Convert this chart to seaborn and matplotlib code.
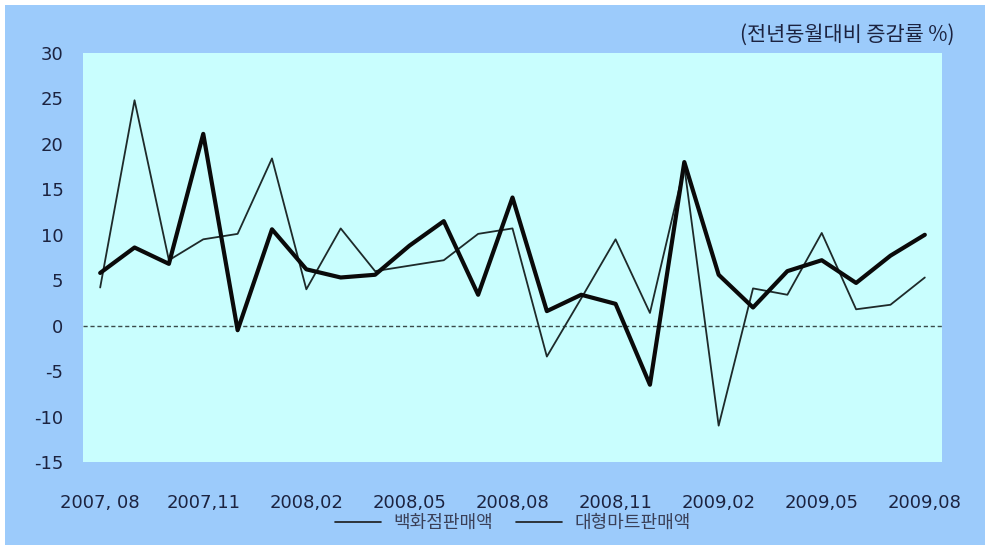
import matplotlib
matplotlib.use("Agg")
import matplotlib.pyplot as plt
from matplotlib.patches import Rectangle
import numpy as np
import pandas as pd
import seaborn as sns

# Monthly year-on-year growth rates (%), 2007.08 - 2009.08
months = ["2007.08", "2007.09", "2007.10", "2007.11", "2007.12", "2008.01",
          "2008.02", "2008.03", "2008.04", "2008.05", "2008.06", "2008.07",
          "2008.08", "2008.09", "2008.10", "2008.11", "2008.12", "2009.01",
          "2009.02", "2009.03", "2009.04", "2009.05", "2009.06", "2009.07",
          "2009.08"]
dept_store = [4.2, 24.8, 7.2, 9.5, 10.1, 18.4, 4.0, 10.7, 6.0, 6.6, 7.2, 10.1,
              10.7, -3.4, 3.0, 9.5, 1.4, 17.5, -11.0, 4.1, 3.4, 10.2, 1.8, 2.3,
              5.3]
big_mart = [5.8, 8.6, 6.8, 21.1, -0.5, 10.6, 6.2, 5.3, 5.6, 8.8, 11.5, 3.4,
            14.1, 1.6, 3.4, 2.4, -6.5, 18.0, 5.6, 2.0, 6.0, 7.2, 4.7, 7.7, 10.0]
tick_labels = ["2007, 08", "2007,11", "2008,02", "2008,05", "2008,08",
               "2008,11", "2009,02", "2009,05", "2009,08"]
series_names = ["백화점판매액", "대형마트판매액"]
unit_note = "(전년동월대비 증감률 %)"
y_ticks = [-15, -10, -5, 0, 5, 10, 15, 20, 25, 30]

sns.set_style("white")
plt.rcParams["font.family"] = ["DejaVu Sans", "Noto Sans CJK KR"]
plt.rcParams["axes.unicode_minus"] = False

text_color = "#1c2340"
outer_bg = "#9CCBFB"
plot_bg = "#C9FEFE"

df = pd.DataFrame({"idx": np.arange(len(months)), "month": months,
                   "dept": dept_store, "mart": big_mart})

W, H = 985, 545
fig = plt.figure(figsize=(W / 100, H / 100), dpi=100)
fig.patch.set_facecolor("white")
fig.patches.append(Rectangle((5 / W, 0), 1 - 5 / W, 1 - 5 / H,
                             transform=fig.transFigure, facecolor=outer_bg,
                             edgecolor="none", zorder=-10))

ax = fig.add_axes([83 / W, 1 - 462 / H, (942 - 83) / W, (462 - 53) / H])
ax.set_facecolor(plot_bg)

ax.axhline(0, color="#3a4a4a", lw=1.0, ls=(0, (3, 2)), zorder=1)
sns.lineplot(data=df, x="idx", y="dept", ax=ax, color="#1e2a2a", lw=1.3,
             label=series_names[0], zorder=3)
sns.lineplot(data=df, x="idx", y="mart", ax=ax, color="#0a0a0a", lw=3.0,
             label=series_names[1], zorder=4)

ax.set_xlim(-0.5, len(months) - 0.5)
ax.set_ylim(-15, 30)
ax.set_xticks(np.arange(0, len(months), 3))
ax.set_xticklabels(tick_labels)
ax.set_yticks(y_ticks)
ax.set_xlabel("")
ax.set_ylabel("")
ax.tick_params(axis="both", length=0, labelsize=13, colors=text_color)
ax.tick_params(axis="x", pad=23)
ax.tick_params(axis="y", pad=14)
for s in ax.spines.values():
    s.set_visible(False)

handles, labels = ax.get_legend_handles_labels()
ax.get_legend().remove()
leg = fig.legend(handles, labels, loc="center", ncol=2,
                 bbox_to_anchor=(513 / W, 1 - 523 / H), frameon=False,
                 prop={"family": ["Noto Sans CJK KR", "DejaVu Sans"], "size": 13},
                 handlelength=2.5, handletextpad=0.7,
                 columnspacing=1.3, labelcolor="#3a4058")
for h in leg.get_lines():
    h.set_linewidth(1.2)
    h.set_color("#1a1a1a")

fig.text(955 / W, 1 - 35 / H, unit_note, ha="right", va="center",
         fontsize=15, color=text_color,
         family=["Noto Sans CJK KR", "DejaVu Sans"], weight="medium")

fig.savefig("out.png", dpi=100, facecolor=fig.get_facecolor())
